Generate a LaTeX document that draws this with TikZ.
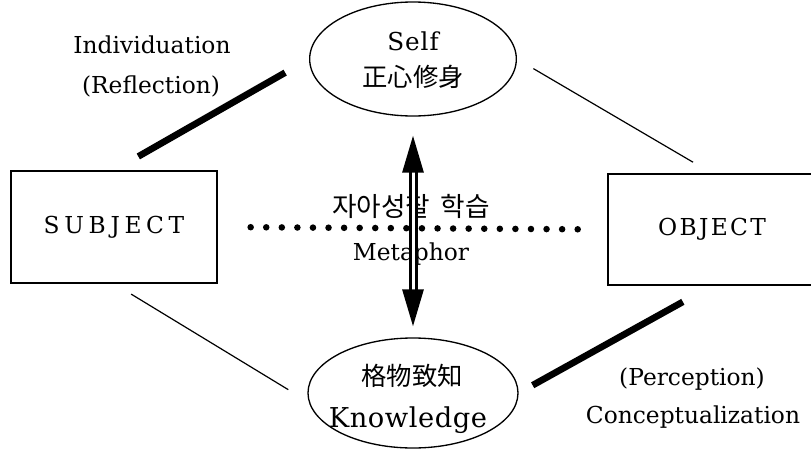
\documentclass[tikz,border=0pt]{standalone}
\usepackage{fontspec}
\setmainfont{DejaVu Serif}
\newfontfamily\cjk{Noto Sans CJK KR}
\usetikzlibrary{shapes.geometric,arrows.meta}

\begin{document}
\begin{tikzpicture}[x=0.75pt, y=-0.75pt,
  every node/.style={inner sep=0pt, font=\fontsize{17.5}{27}\selectfont},
  box/.style={rectangle, draw, line width=1pt},
  oval/.style={ellipse, draw, line width=1pt},
  thinline/.style={line width=0.9pt},
  thickbar/.style={line width=5pt},
  dotline/.style={line width=4.9pt, line cap=round, dash pattern=on 0pt off 11.68pt},
  dblarrow/.style={double, line width=2.25pt, double distance=2.25pt,
    {Triangle[length=27.75pt, width=15.75pt]}-{Triangle[length=27.75pt, width=15.75pt]}}]
  \useasboundingbox (0,0) rectangle (811,450);
  \clip (0,0) rectangle (811,450);
  \node[box, minimum width=154.5pt, minimum height=84pt] (subj) at (114,227) {\addfontfeatures{LetterSpace=20}SUBJECT};
  \node[box, minimum width=156pt, minimum height=83.25pt] (obj) at (712,229.5) {\addfontfeatures{LetterSpace=10}OBJECT};
  \node[oval, minimum width=155pt, minimum height=85.5pt] (self) at (413,59) {};
  \node[oval, minimum width=157.5pt, minimum height=82.5pt] (know) at (413,393) {};
  \node[anchor=base, font=\fontsize{18.5}{27}\selectfont] (selfen) at (413,50) {\addfontfeatures{LetterSpace=4}Self};
  \node[anchor=base, font=\fontsize{19}{27}\cjk] (selfzh) at (413,86) {正心修身};
  \node[anchor=base, font=\fontsize{19}{27}\cjk] (knowzh) at (412,385) {格物致知};
  \node[anchor=base, font=\fontsize{20.5}{27}\selectfont] (knowen) at (408,427) {\addfontfeatures{LetterSpace=2}Knowledge};
  \node[anchor=base] (indiv) at (152,53) {Individuation};
  \node[anchor=base] (refl) at (151,93) {(Reflection)};
  \node[anchor=base] (percep) at (692,385) {(Perception)};
  \node[anchor=base] (concept) at (693,423) {Conceptualization};
  \node[anchor=base, font=\fontsize{20}{27}\cjk] (selfref) at (411,216) {자아성찰\hspace{0.4em}학습};
  \node[anchor=base] (metaph) at (411,260) {Metaphor};
  \draw[thinline, shorten <=15pt, shorten >=18pt] (subj.south) -- (know.185);
  \draw[thinline, shorten <=14.25pt, shorten >=16.5pt] (self.east) -- (obj.north);
  \draw[thickbar, shorten <=21pt, shorten >=20.6pt] (subj.north) -- (self.west);
  \draw[thickbar, shorten <=12pt, shorten >=25pt] (know.east) -- (obj.south);
  \draw[dotline, shorten <=24.75pt, shorten >=20pt] (subj.east) -- (obj.west);
  \draw[dblarrow, shorten <=14.25pt, shorten >=8.25pt] (self.south) -- (know.north);
\end{tikzpicture}
\end{document}
